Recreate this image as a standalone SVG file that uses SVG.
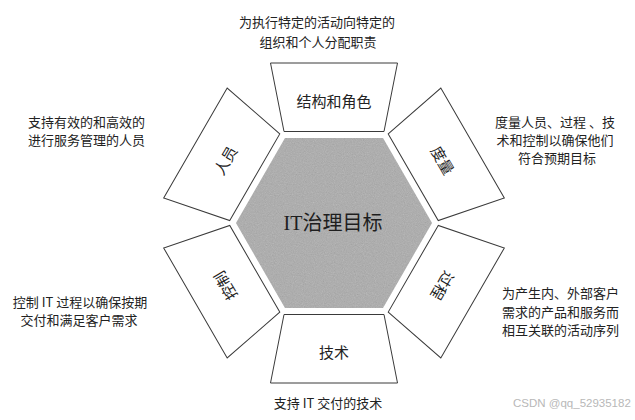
<svg xmlns="http://www.w3.org/2000/svg" width="635" height="420" viewBox="0 0 635 420">
<style>
.tz{fill:#fff;stroke:#3a3a3a;stroke-width:1}
.lb{font-family:"Noto Sans CJK SC","Noto Sans",sans-serif;font-size:15px;fill:#222;text-anchor:middle;dominant-baseline:central}
.ds{font-family:"Noto Sans CJK SC","Noto Sans",sans-serif;font-size:13px;fill:#222}
.c{text-anchor:middle}
.ctr{font-family:"Liberation Serif","Noto Sans CJK SC",serif;font-size:20px;fill:#1e1e1e;text-anchor:middle;dominant-baseline:central}
.wm{font-family:"Liberation Sans",sans-serif;font-size:11.5px;fill:#b8b8b8}
</style>
<defs>
<filter id="noise" x="0" y="0" width="100%" height="100%">
<feTurbulence type="fractalNoise" baseFrequency="0.9" numOctaves="2" seed="4" result="n"/>
<feColorMatrix in="n" type="saturate" values="0" result="g"/>
<feComposite in="g" in2="SourceGraphic" operator="in"/>
</filter>
<polygon id="trap" points="-50,-91.5 50,-91.5 63.5,-160 -63.5,-160"/>
</defs>
<g id="hub">
<polygon points="432,223 383,138 285,138 236,223 285,308 383,308" fill="#ababab"/>
<polygon points="432,223 383,138 285,138 236,223 285,308 383,308" fill="#888" filter="url(#noise)" opacity="0.35"/>
<text class="ctr" x="333" y="223">IT治理目标</text>
</g>
<g id="connectors"></g>
<g id="node-structure">
<use href="#trap" class="tz" transform="translate(334,223)"/>
<text class="lb" x="334" y="100">结构和角色</text>
</g>
<g id="node-measure">
<use href="#trap" class="tz" transform="translate(334,223) rotate(60)"/>
<text class="lb" transform="translate(334,223) rotate(60) translate(0,-126)">度量</text>
</g>
<g id="node-process">
<use href="#trap" class="tz" transform="translate(334,223) rotate(120)"/>
<text class="lb" transform="translate(334,223) rotate(120) translate(0,-126)">过程</text>
</g>
<g id="node-tech">
<use href="#trap" class="tz" transform="translate(334,223) rotate(180)"/>
<text class="lb" x="334" y="351">技术</text>
</g>
<g id="node-control">
<use href="#trap" class="tz" transform="translate(334,223) rotate(-120)"/>
<text class="lb" transform="translate(334,223) rotate(-120) translate(0,-126)">控制</text>
</g>
<g id="node-people">
<use href="#trap" class="tz" transform="translate(334,223) rotate(-60)"/>
<text class="lb" transform="translate(334,223) rotate(-60) translate(0,-126)">人员</text>
</g>
<g id="desc-top">
<text class="ds c" x="317" y="27">为执行特定的活动向特定的</text>
<text class="ds c" x="318" y="47">组织和个人分配职责</text>
</g>
<g id="desc-people">
<text class="ds" x="28" y="127">支持有效的和高效的</text>
<text class="ds" x="28" y="145">进行服务管理的人员</text>
</g>
<g id="desc-measure">
<text class="ds c" x="555" y="127">度量人员、过程 、技</text>
<text class="ds c" x="555" y="145">术和控制以确保他们</text>
<text class="ds c" x="557" y="163">符合预期目标</text>
</g>
<g id="desc-control">
<text class="ds c" x="80" y="307">控制 IT 过程以确保按期</text>
<text class="ds c" x="79" y="325">交付和满足客户需求</text>
</g>
<g id="desc-process">
<text class="ds" x="502" y="298">为产生内、外部客户</text>
<text class="ds" x="502" y="317">需求的产品和服务而</text>
<text class="ds" x="502" y="335">相互关联的活动序列</text>
</g>
<g id="desc-tech">
<text class="ds c" x="328" y="408">支持 IT 交付的技术</text>
</g>
<text class="wm" x="513" y="407">CSDN @qq_52935182</text>
</svg>
